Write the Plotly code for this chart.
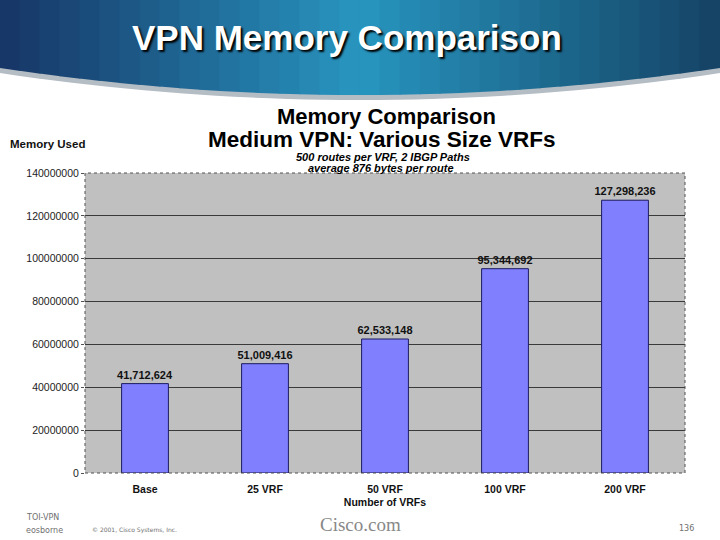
import plotly.graph_objects as go

categories = ["Base", "25 VRF", "50 VRF", "100 VRF", "200 VRF"]
memory_used = [41712624, 51009416, 62533148, 95344692, 127298236]
y_ticks = [0, 20000000, 40000000, 60000000, 80000000, 100000000, 120000000, 140000000]

W, H = 720, 540
L, R, T, B = 85, 35, 173, 67
PW, PH = W - L - R, H - T - B


def px(x):
    return (x - L) / PW


def py(y):
    return (H - B - y) / PH


fig = go.Figure()
fig.add_trace(go.Bar(
    x=categories, y=memory_used,
    marker=dict(color="#8080FF", line=dict(color="#1a1a60", width=1)),
    width=0.39,
    texttemplate="<b>%{y:,}</b>", textposition="outside",
    textfont=dict(family="Liberation Sans", size=11, color="#111111"),
    constraintext="none",
    cliponaxis=False,
))

shapes = []


def lerp(c1, c2, t):
    return "#%02x%02x%02x" % tuple(int(round(a + (b - a) * t)) for a, b in zip(c1, c2))


stops = [(0, (22, 52, 100)), (360, (40, 150, 192)), (720, (20, 66, 100))]


def band_color(x):
    for (x0, c0), (x1, c1) in zip(stops, stops[1:]):
        if x0 <= x <= x1:
            return lerp(c0, c1, (x - x0) / (x1 - x0))
    return lerp(stops[-1][1], stops[-1][1], 0)


def arc(x, off=0):
    return 68 + off + 27 * (1 - ((x - 360) / 360) ** 2)


# shadow under the banner
n = 40
sx = [i * W / n for i in range(n + 1)]
path = "M %f,%f " % (px(0), py(0))
for x in sx:
    path += "L %f,%f " % (px(x), py(arc(x, 5)))
path += "L %f,%f Z" % (px(W), py(0))
shapes.append(dict(type="path", xref="paper", yref="paper", path=path,
                   fillcolor="#b4bcc4", line=dict(width=0), layer="above"))

# banner gradient strips
ns = 36
for i in range(ns):
    x0 = i * W / ns - 0.5
    x1 = (i + 1) * W / ns + 0.5
    xm = (x0 + x1) / 2
    p = "M %f,%f L %f,%f L %f,%f L %f,%f Z" % (
        px(x0), py(-2), px(x1), py(-2), px(x1), py(arc(min(x1, W))), px(x0), py(arc(max(x0, 0))))
    shapes.append(dict(type="path", xref="paper", yref="paper", path=p,
                       fillcolor=band_color(xm), line=dict(width=0), layer="above"))

# dotted plot frame
shapes.append(dict(type="rect", xref="paper", yref="paper", x0=0, x1=1, y0=0, y1=1,
                   line=dict(color="#505050", width=1, dash="dot"), layer="above"))


def note(text, x, y, size, color="black", family="Liberation Sans", xanchor="center", **kw):
    font = dict(family=family, size=size, color=color)
    font.update(kw)
    return dict(text=text, x=px(x), y=py(y), xref="paper", yref="paper",
                xanchor=xanchor, yanchor="middle", showarrow=False, font=font)


annotations = [
    note("<b>VPN Memory Comparison</b>", 347, 37, 35, "white", shadow="2px 2px 2px #000000"),
    note("<b>Memory Comparison</b>", 386, 117, 22),
    note("<b>Medium VPN: Various Size VRFs</b>", 382, 139, 22.5),
    note("<b><i>500 routes per VRF, 2 IBGP Paths</i></b>", 383, 157, 11),
    note("<b><i>average 876 bytes per route</i></b>", 381, 168, 11),
    note("<b>Memory Used</b>", 8, 144, 11.5, "#111111", xanchor="left"),
    note("TOI-VPN", 24, 517, 8, "#707070", "DejaVu Sans", xanchor="left"),
    note("eosborne", 24, 530, 8, "#707070", "DejaVu Sans", xanchor="left"),
    note("© 2001, Cisco Systems, Inc.", 90, 530, 6, "#707070", "DejaVu Sans", xanchor="left"),
    note("Cisco.com", 360, 524, 19, "#888888", "Liberation Serif"),
    note("136", 696, 528, 8, "#707070", "DejaVu Sans", xanchor="right"),
]

fig.update_layout(
    width=W, height=H,
    margin=dict(l=L, r=R, t=T, b=B, autoexpand=False),
    paper_bgcolor="white", plot_bgcolor="#C0C0C0",
    showlegend=False,
    shapes=shapes, annotations=annotations,
    xaxis=dict(
        tickfont=dict(family="Liberation Sans", size=10.5, color="#111111"),
        tickprefix="<b>", ticksuffix="</b>",
        title=dict(text="<b>Number of VRFs</b>", standoff=5,
                   font=dict(family="Liberation Sans", size=10.5, color="#111111")),
        showgrid=False, showline=False, ticks="outside", ticklen=6,
        tickcolor="rgba(0,0,0,0)", fixedrange=True,
    ),
    yaxis=dict(
        range=[0, 140000000], tickvals=y_ticks, tickformat="d",
        tickfont=dict(family="Liberation Sans", size=10.5, color="#222222"),
        showgrid=True, gridcolor="#3a3a3a", gridwidth=1,
        zeroline=False, showline=False, ticks="outside", ticklen=3, tickcolor="#505050",
    ),
)

fig.write_html("out.html", config=dict(displayModeBar=False),
               post_script="document.body.style.margin='0';document.body.style.padding='0';")
